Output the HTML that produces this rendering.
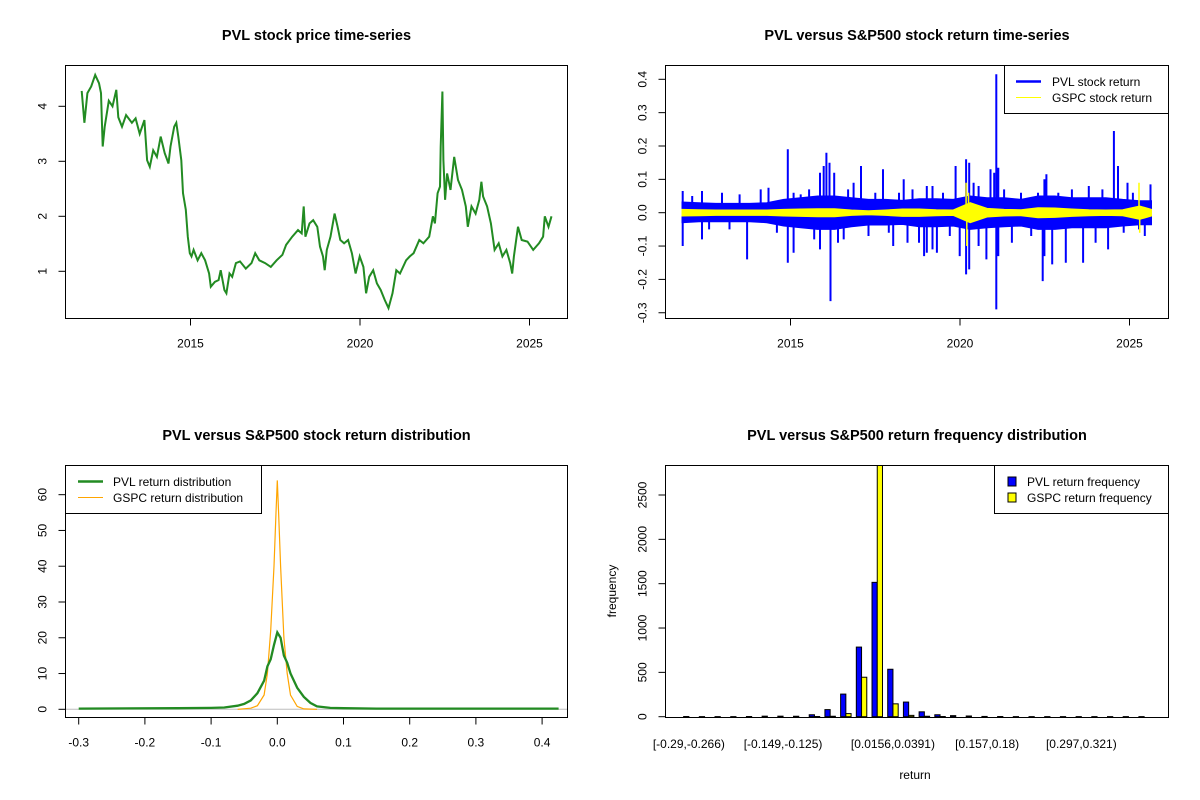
<!DOCTYPE html>
<html><head><meta charset="utf-8"><style>
html,body{margin:0;padding:0;background:#fff;}
svg{display:block;font-family:"Liberation Sans",Arial,sans-serif;}
</style></head><body>
<svg id="c" width="1200" height="800" viewBox="0 0 1200 800" xmlns="http://www.w3.org/2000/svg">
<rect width="1200" height="800" fill="#fff"/>
</svg>
<script>
// ---------- Panel 1 data: PVL price ----------
const priceYears=[2011.79,2011.87,2011.96,2012.07,2012.19,2012.30,2012.36,2012.41,2012.47,2012.59,2012.70,2012.81,2012.87,2012.98,2013.10,2013.27,2013.38,2013.50,2013.64,2013.72,2013.80,2013.90,2014.01,2014.12,2014.24,2014.35,2014.41,2014.52,2014.58,2014.64,2014.73,2014.78,2014.86,2014.92,2014.98,2015.03,2015.09,2015.21,2015.32,2015.43,2015.55,2015.60,2015.72,2015.83,2015.89,2016.00,2016.06,2016.15,2016.23,2016.34,2016.46,2016.63,2016.80,2016.91,2017.03,2017.20,2017.37,2017.54,2017.71,2017.82,2018.00,2018.17,2018.28,2018.34,2018.39,2018.51,2018.62,2018.74,2018.82,2018.91,2018.96,2019.02,2019.13,2019.25,2019.34,2019.42,2019.53,2019.65,2019.76,2019.87,2019.99,2020.10,2020.18,2020.27,2020.39,2020.50,2020.61,2020.73,2020.84,2020.96,2021.07,2021.18,2021.36,2021.47,2021.58,2021.75,2021.87,2022.04,2022.15,2022.21,2022.29,2022.36,2022.38,2022.43,2022.46,2022.51,2022.57,2022.67,2022.78,2022.89,2023.01,2023.12,2023.18,2023.29,2023.41,2023.52,2023.58,2023.63,2023.75,2023.86,2023.97,2024.09,2024.20,2024.32,2024.43,2024.49,2024.54,2024.66,2024.77,2024.94,2025.11,2025.28,2025.40,2025.45,2025.56,2025.65];
const priceValues=[4.28,3.70,4.24,4.36,4.57,4.42,4.24,3.27,3.63,4.10,4.00,4.30,3.80,3.63,3.84,3.70,3.78,3.50,3.75,3.02,2.90,3.20,3.08,3.45,3.15,2.96,3.27,3.63,3.70,3.45,3.02,2.42,2.12,1.63,1.33,1.27,1.39,1.20,1.33,1.20,0.96,0.72,0.81,0.84,1.02,0.66,0.60,0.96,0.90,1.15,1.18,1.05,1.15,1.33,1.20,1.15,1.08,1.20,1.30,1.48,1.63,1.75,1.69,2.18,1.63,1.87,1.93,1.81,1.45,1.27,1.02,1.39,1.63,2.05,1.81,1.57,1.51,1.57,1.33,0.96,1.27,1.08,0.60,0.90,1.02,0.78,0.66,0.48,0.33,0.60,1.02,0.96,1.20,1.27,1.33,1.57,1.51,1.63,2.00,1.87,2.42,2.54,3.27,4.27,3.02,2.30,2.78,2.48,3.08,2.66,2.48,2.18,1.81,2.18,2.05,2.30,2.63,2.36,2.18,1.87,1.39,1.51,1.27,1.39,1.15,0.96,1.27,1.81,1.57,1.54,1.39,1.51,1.63,2.00,1.81,2.00];
const priceYTicks=[1,2,3,4];
const yearTicks=[2015,2020,2025];

// ---------- Panel 2 data: returns ----------
const envYears=[2011.8,2012.3,2012.8,2013.3,2013.8,2014.3,2014.8,2015.3,2015.8,2016.3,2016.8,2017.3,2017.8,2018.3,2018.8,2019.3,2019.8,2020.3,2020.8,2021.3,2021.8,2022.3,2022.8,2023.3,2023.8,2024.3,2024.8,2025.3,2025.65];
const pvlEnvUp=[0.032,0.03,0.028,0.028,0.028,0.03,0.04,0.045,0.05,0.05,0.045,0.04,0.04,0.037,0.042,0.042,0.04,0.05,0.045,0.045,0.04,0.05,0.05,0.045,0.045,0.045,0.04,0.036,0.036];
const pvlEnvDn=[-0.03,-0.027,-0.027,-0.027,-0.027,-0.03,-0.04,-0.045,-0.05,-0.05,-0.042,-0.037,-0.037,-0.035,-0.042,-0.042,-0.04,-0.05,-0.045,-0.042,-0.04,-0.05,-0.05,-0.045,-0.045,-0.045,-0.04,-0.036,-0.036];
const gspcEnv=[0.01,0.009,0.008,0.008,0.008,0.008,0.01,0.011,0.012,0.012,0.008,0.006,0.008,0.011,0.011,0.009,0.008,0.03,0.013,0.01,0.009,0.015,0.014,0.011,0.009,0.008,0.009,0.02,0.01];
const spikeYears=[2011.82,2011.82,2012.10,2012.39,2012.39,2012.60,2012.98,2013.20,2013.50,2013.72,2014.12,2014.35,2014.60,2014.92,2014.92,2015.09,2015.09,2015.30,2015.55,2015.70,2015.87,2015.87,2015.98,2016.06,2016.15,2016.18,2016.29,2016.40,2016.57,2016.70,2016.86,2017.08,2017.30,2017.50,2017.73,2017.90,2018.03,2018.20,2018.34,2018.45,2018.60,2018.79,2018.94,2019.02,2019.02,2019.19,2019.19,2019.32,2019.50,2019.70,2019.87,2019.99,2020.18,2020.18,2020.27,2020.27,2020.40,2020.55,2020.55,2020.78,2020.90,2021.01,2021.07,2021.07,2021.13,2021.13,2021.30,2021.53,2021.80,2022.10,2022.30,2022.44,2022.49,2022.49,2022.55,2022.72,2022.90,2023.12,2023.30,2023.63,2023.80,2024.00,2024.20,2024.37,2024.54,2024.66,2024.83,2024.94,2025.10,2025.28,2025.45,2025.62];
const spikeValues=[0.065,-0.10,0.05,0.065,-0.08,-0.05,0.06,-0.05,0.055,-0.14,0.07,0.075,-0.06,0.19,-0.15,0.06,-0.12,0.055,0.07,-0.08,0.12,-0.11,0.14,0.18,0.15,-0.265,0.12,-0.09,-0.08,0.07,0.09,0.14,-0.07,0.06,0.13,-0.06,-0.10,0.06,0.10,-0.09,0.07,-0.09,-0.13,0.08,-0.12,0.08,-0.11,-0.12,0.06,-0.07,0.14,-0.13,-0.185,0.16,0.15,-0.17,0.09,0.08,-0.10,-0.14,0.13,0.12,0.415,-0.29,0.135,-0.13,0.07,-0.09,0.06,-0.07,0.06,-0.205,0.10,-0.13,0.115,-0.155,0.06,-0.15,0.07,-0.15,0.08,-0.09,0.07,-0.11,0.245,0.14,-0.06,0.09,0.06,-0.05,-0.07,0.085];
const gspcSpikeYears=[2020.18,2020.20,2020.25,2025.28,2025.30];
const gspcSpikeValues=[0.09,-0.10,0.06,0.09,-0.06];
const retYTicks=[-0.3,-0.2,-0.1,0.0,0.1,0.2,0.3,0.4];

// ---------- Panel 3 data: densities ----------
const pvlDensX=[-0.30,-0.15,-0.10,-0.08,-0.06,-0.05,-0.04,-0.03,-0.02,-0.015,-0.01,-0.005,0.0,0.005,0.01,0.015,0.02,0.03,0.04,0.05,0.06,0.08,0.10,0.15,0.425];
const pvlDensY=[0.2,0.3,0.4,0.5,1.0,1.5,2.5,4.5,8,12,14,18,21.5,20,15,13,10,6,3.5,1.8,0.8,0.4,0.3,0.2,0.2];
const gspcDensX=[-0.06,-0.04,-0.03,-0.02,-0.015,-0.01,-0.005,-0.002,0.0,0.002,0.005,0.01,0.015,0.02,0.03,0.04,0.06];
const gspcDensY=[0,0.3,1,4,10,22,40,55,64,55,40,20,10,4,0.8,0.1,0];
const densXTicks=[-0.3,-0.2,-0.1,0.0,0.1,0.2,0.3,0.4];
const densYTicks=[0,10,20,30,40,50,60];

// ---------- Panel 4 data: histogram ----------
const pvlFreq=[2,1,1,1,2,6,6,5,22,80,255,785,1515,535,165,55,22,12,8,3,2,1,1,1,1,1,1,1,1,1];
const gspcFreq=[0,0,0,0,0,0,0,0,2,5,35,445,3100,145,15,5,2,0,0,0,0,0,0,0,0,0,0,0,0,0];
const binLabels=["[-0.29,-0.266)","[-0.149,-0.125)","[0.0156,0.0391)","[0.157,0.18)","[0.297,0.321)"];
const binLabelIdx=[0,6,13,19,25];
const freqYTicks=[0,500,1000,1500,2000,2500];

// ---------- helpers ----------
const svg=document.getElementById('c');
const NS='http://www.w3.org/2000/svg';
function mk(tag,attrs,parent){const e=document.createElementNS(NS,tag);for(const k in attrs)e.setAttribute(k,attrs[k]);(parent||svg).appendChild(e);return e;}
function txt(s,x,y,opt,parent){const t=mk('text',Object.assign({x:x,y:y,'font-size':12,'text-anchor':'middle',fill:'#000'},opt||{}),parent);t.textContent=s;return t;}
function fmt1(v){return v.toFixed(1);}

function panel(name,L,T,R,B,title){
  const g=mk('g',{});
  
  
  const t=txt(title,(L+R)/2,T-25.5,{'font-size':14.5,'font-weight':'bold'},g);
  
  
  return g;
}
function box(g,L,T,R,B,name){
  const r=mk('rect',{x:L,y:T,width:R-L,height:B-T,fill:'none',stroke:'#000','stroke-width':1},g);
  
  
}
function yAxis(g,L,ticks,sy,fmt,name){
  const a=mk('g',{},g);
  
  
  mk('line',{x1:L,x2:L,y1:sy(ticks[0]),y2:sy(ticks[ticks.length-1]),stroke:'#000'},a);
  ticks.forEach(v=>{const y=sy(v);mk('line',{x1:L-7,x2:L,y1:y,y2:y,stroke:'#000'},a);
    txt(fmt(v),0,0,{transform:`translate(${L-19},${y}) rotate(-90)`},a);});
}
function xAxis(g,B,ticks,sx,fmt,name){
  const a=mk('g',{},g);
  
  
  mk('line',{x1:sx(ticks[0]),x2:sx(ticks[ticks.length-1]),y1:B,y2:B,stroke:'#000'},a);
  ticks.forEach(v=>{const x=sx(v);mk('line',{x1:x,x2:x,y1:B,y2:B+7,stroke:'#000'},a);
    txt(fmt(v),x,B+29,{},a);});
}

// ---------- Panel 1 ----------
(function(){
  const L=65.5,T=65.5,R=567.5,B=318.5;
  const sx=y=>190.5+(y-2015)*33.9, sy=v=>271.3-(v-1)*55;
  const g=panel('price-panel',L,T,R,B,'PVL stock price time-series');
  const pts=priceYears.map((y,i)=>sx(y).toFixed(1)+','+sy(priceValues[i]).toFixed(1)).join(' ');
  const p=mk('polyline',{points:pts,fill:'none',stroke:'#228B22','stroke-width':2,'stroke-linejoin':'miter'},g);
  
  
  box(g,L,T,R,B,'price-plot-box');
  yAxis(g,L,priceYTicks,sy,v=>String(v),'price-y-axis');
  xAxis(g,B,yearTicks,sx,v=>String(v),'price-x-axis');
})();

// ---------- Panel 2 ----------
(function(){
  const L=665.5,T=65.5,R=1168.5,B=318.5;
  const sx=y=>790.5+(y-2015)*33.9, sy=v=>212.7-v*333.5;
  const g=panel('return-panel',L,T,R,B,'PVL versus S&P500 stock return time-series');
  const up=envYears.map((y,i)=>sx(y).toFixed(1)+','+sy(pvlEnvUp[i]).toFixed(1));
  const dn=envYears.map((y,i)=>sx(y).toFixed(1)+','+sy(pvlEnvDn[i]).toFixed(1)).reverse();
  const band=mk('polygon',{points:up.concat(dn).join(' '),fill:'#0000FF',stroke:'#0000FF','stroke-width':1},g);
  
  
  let ds='';spikeYears.forEach((y,i)=>{ds+=`M${sx(y).toFixed(1)},${sy(0)}V${sy(spikeValues[i]).toFixed(1)}`;});
  const sp=mk('path',{d:ds,stroke:'#0000FF','stroke-width':2,fill:'none'},g);
  
  
  const gu=envYears.map((y,i)=>sx(y).toFixed(1)+','+sy(gspcEnv[i]).toFixed(1));
  const gd=envYears.map((y,i)=>sx(y).toFixed(1)+','+sy(-gspcEnv[i]).toFixed(1)).reverse();
  const gb=mk('polygon',{points:gu.concat(gd).join(' '),fill:'#FFFF00',stroke:'#FFFF00','stroke-width':1},g);
  
  
  let dg='';gspcSpikeYears.forEach((y,i)=>{dg+=`M${sx(y).toFixed(1)},${sy(0)}V${sy(gspcSpikeValues[i]).toFixed(1)}`;});
  const gs=mk('path',{d:dg,stroke:'#FFFF00','stroke-width':1.5,fill:'none'},g);
  
  
  box(g,L,T,R,B,'return-plot-box');
  yAxis(g,L,retYTicks,sy,fmt1,'return-y-axis');
  xAxis(g,B,yearTicks,sx,v=>String(v),'return-x-axis');
  const lg=mk('g',{},g);
  
  
  mk('rect',{x:1004.5,y:65.5,width:164,height:48,fill:'#fff',stroke:'#000'},lg);
  mk('line',{x1:1016,x2:1041,y1:81.5,y2:81.5,stroke:'#0000FF','stroke-width':2.5},lg);
  mk('line',{x1:1016,x2:1041,y1:97.5,y2:97.5,stroke:'#FFFF00','stroke-width':1},lg);
  txt('PVL stock return',1052,86,{'text-anchor':'start'},lg);
  txt('GSPC stock return',1052,102,{'text-anchor':'start'},lg);
})();

// ---------- Panel 3 ----------
(function(){
  const L=65.5,T=465.5,R=567.5,B=717.5;
  const sx=v=>277.3+v*662, sy=v=>709.3-v*3.577;
  const g=panel('density-panel',L,T,R,B,'PVL versus S&P500 stock return distribution');
  const z=mk('line',{x1:L,x2:R,y1:sy(0),y2:sy(0),stroke:'#BEBEBE'},g);
  
  
  const p1=mk('polyline',{points:gspcDensX.map((x,i)=>sx(x).toFixed(1)+','+sy(gspcDensY[i]).toFixed(1)).join(' '),fill:'none',stroke:'#FFA500','stroke-width':1.2},g);
  
  
  const p2=mk('polyline',{points:pvlDensX.map((x,i)=>sx(x).toFixed(1)+','+sy(pvlDensY[i]).toFixed(1)).join(' '),fill:'none',stroke:'#228B22','stroke-width':2.3},g);
  
  
  box(g,L,T,R,B,'density-plot-box');
  yAxis(g,L,densYTicks,sy,v=>String(v),'density-y-axis');
  xAxis(g,B,densXTicks,sx,fmt1,'density-x-axis');
  const lg=mk('g',{},g);
  
  
  mk('rect',{x:65.5,y:465.5,width:196,height:48,fill:'#fff',stroke:'#000'},lg);
  mk('line',{x1:78,x2:103,y1:481.5,y2:481.5,stroke:'#228B22','stroke-width':2.5},lg);
  mk('line',{x1:78,x2:103,y1:497.5,y2:497.5,stroke:'#FFA500','stroke-width':1},lg);
  txt('PVL return distribution',113,486,{'text-anchor':'start'},lg);
  txt('GSPC return distribution',113,502,{'text-anchor':'start'},lg);
})();

// ---------- Panel 4 ----------
(function(){
  const L=665.5,T=465.5,R=1168.5,B=717.5;
  const ux=u=>665+(u+2.56)*5.233, sy=v=>716.7-v*0.08868;
  const g=panel('histogram-panel',L,T,R,B,'PVL versus S&P500 return frequency distribution');
  const cp=mk('clipPath',{id:'clip4'},g);mk('rect',{x:L,y:T,width:R-L,height:B-T},cp);
  const bars=mk('g',{'clip-path':'url(#clip4)'},g);
  
  
  pvlFreq.forEach((v,i)=>{
    const x0=ux(3*i+1),x1=ux(3*i+2),x2=ux(3*i+3);
    const b=mk('rect',{x:x0,y:sy(v),width:x1-x0,height:sy(0)-sy(v),fill:'#0000FF',stroke:'#000','stroke-width':1},bars);
    
    
    const c=mk('rect',{x:x1,y:sy(gspcFreq[i]),width:x2-x1,height:sy(0)-sy(gspcFreq[i]),fill:'#FFFF00',stroke:'#000','stroke-width':1},bars);
    
    
  });
  box(g,L,T,R,B,'histogram-plot-box');
  yAxis(g,L,freqYTicks,sy,v=>String(v),'frequency-y-axis');
  binLabelIdx.forEach((gi,j)=>{const t=txt(binLabels[j],ux(3*gi+2),748,{},g);
    
    });
  const xl=txt('return',915,779,{},g);
  
  
  const yl=txt('frequency',0,0,{transform:'translate(616,591) rotate(-90)'},g);
  
  
  const lg=mk('g',{},g);
  
  
  mk('rect',{x:994.5,y:465.5,width:174,height:48,fill:'#fff',stroke:'#000'},lg);
  mk('rect',{x:1008,y:477,width:8,height:9,fill:'#0000FF',stroke:'#000'},lg);
  mk('rect',{x:1008,y:493,width:8,height:9,fill:'#FFFF00',stroke:'#000'},lg);
  txt('PVL return frequency',1027,486,{'text-anchor':'start'},lg);
  txt('GSPC return frequency',1027,502,{'text-anchor':'start'},lg);
})();
</script>
</body></html>
